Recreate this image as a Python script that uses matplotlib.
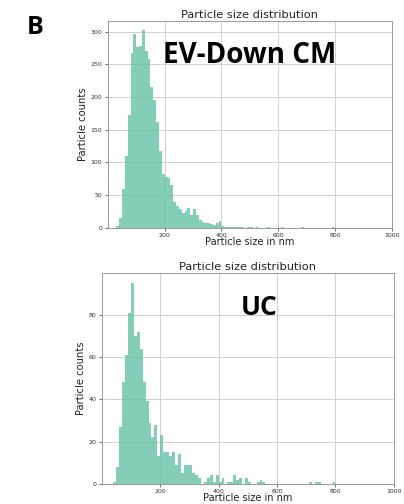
import matplotlib.pyplot as plt

# bin left edges (nm, 10 nm bins) and particle counts
ev_bins = [30, 40, 50, 60, 70, 80, 90, 100, 110, 120, 130, 140, 150, 160, 170,
           180, 190, 200, 210, 220, 230, 240, 250, 260, 270, 280, 290, 300, 310,
           320, 330, 340, 350, 360, 370, 380, 390, 400, 410, 420, 430, 440, 450,
           460, 470, 490, 500, 520, 560, 610, 680, 790]
ev_counts = [3, 15, 60, 110, 172, 268, 296, 276, 278, 303, 270, 258, 215, 196, 162,
             118, 83, 78, 76, 65, 40, 33, 28, 22, 25, 30, 20, 28, 20,
             12, 9, 8, 7, 6, 5, 7, 10, 3, 2, 2, 1, 2, 1,
             1, 1, 1, 1, 1, 1, 1, 1, 1]

uc_bins = [40, 50, 60, 70, 80, 90, 100, 110, 120, 130, 140, 150, 160, 170, 180,
           190, 200, 210, 220, 230, 240, 250, 260, 270, 280, 290, 300, 310, 320,
           330, 350, 360, 370, 380, 390, 400, 410, 430, 440, 450, 460, 470, 490,
           500, 530, 540, 550, 710, 730, 740, 790]
uc_counts = [1, 8, 27, 48, 61, 81, 95, 70, 72, 64, 48, 39, 29, 22, 28,
             13, 23, 15, 15, 13, 15, 9, 14, 5, 9, 9, 9, 5, 4,
             3, 1, 3, 4, 1, 4, 1, 3, 1, 1, 4, 2, 3, 3,
             1, 1, 2, 1, 1, 1, 1, 1]

bar_color = "#66c2a5"


def plot_hist(ax, bins, counts, ylim, yticks, label, label_xy, label_size):
    ax.bar(bins, counts, width=10, align="edge", color=bar_color, alpha=0.8, linewidth=0)
    ax.set_xlim(0, 1000)
    ax.set_ylim(0, ylim)
    ax.set_xticks([200, 400, 600, 800, 1000])
    ax.set_yticks(yticks)
    ax.grid(True, color="#d0d0d0", linewidth=0.7)
    ax.set_axisbelow(True)
    ax.tick_params(labelsize=4.5, colors="#333333", length=2, width=0.5, pad=2)
    for s in ax.spines.values():
        s.set_color("#999999")
        s.set_linewidth(0.7)
    ax.set_title("Particle size distribution", fontsize=8.2, pad=2, color="#222222")
    ax.set_xlabel("Particle size in nm", fontsize=7, labelpad=-1, color="#222222")
    ax.set_ylabel("Particle counts", fontsize=7.2, labelpad=2, color="#222222")
    ax.text(label_xy[0], label_xy[1], label, transform=ax.transAxes, ha="center",
            va="center", fontsize=label_size, fontweight="bold", family="Open Sans")


fig = plt.figure(figsize=(4.04, 5.04), dpi=100)
ax1 = fig.add_axes([0.267, 0.548, 0.703, 0.41])
ax2 = fig.add_axes([0.252, 0.040, 0.723, 0.419])

plot_hist(ax1, ev_bins, ev_counts, 316, [0, 50, 100, 150, 200, 250, 300],
          "EV-Down CM", (0.50, 0.835), 20)
plot_hist(ax2, uc_bins, uc_counts, 100, [0, 20, 40, 60, 80],
          "UC", (0.54, 0.835), 19)

fig.text(0.086, 0.946, "B", ha="center", va="center", fontsize=18,
         fontweight="bold", family="Open Sans")

fig.savefig("out.png", dpi=100)
